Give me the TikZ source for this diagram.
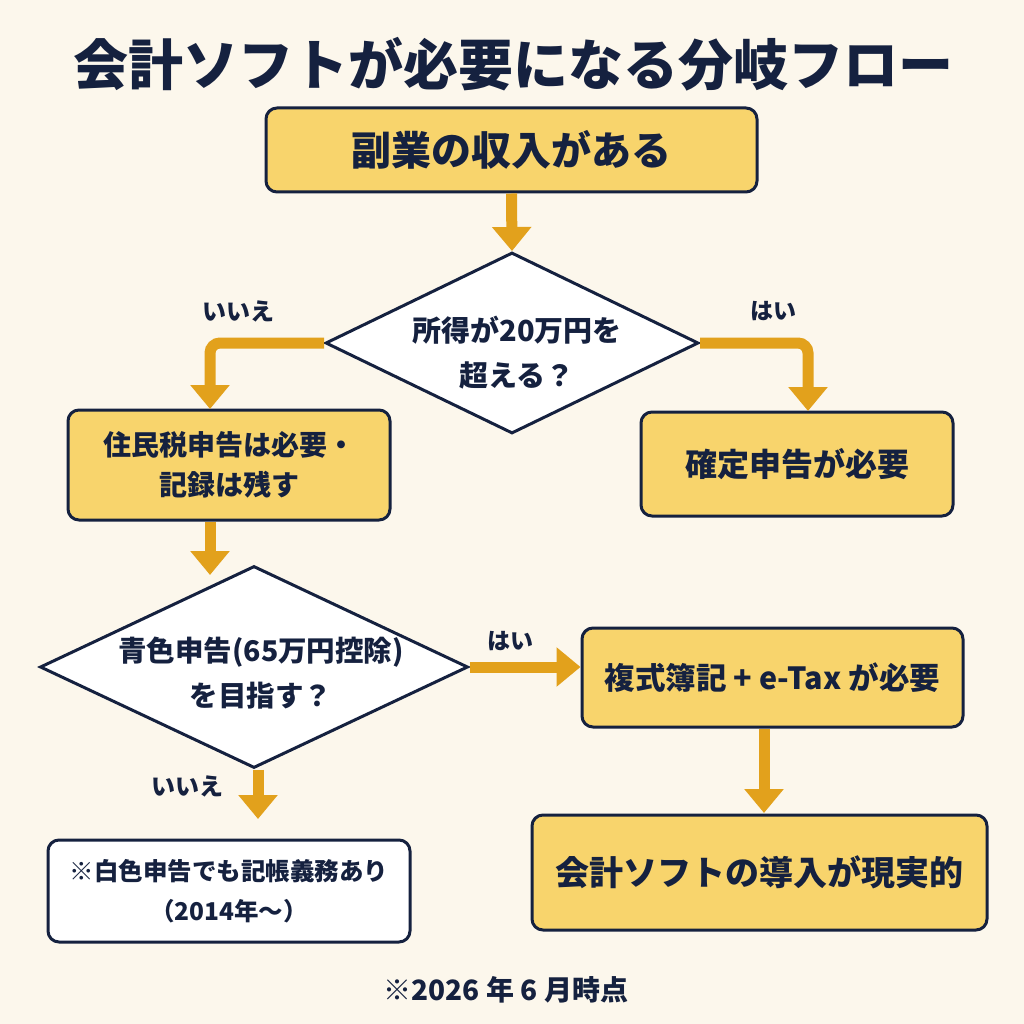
\documentclass[tikz,border=0pt]{standalone}
\usepackage{fontspec}
\setmainfont{Noto Sans CJK JP}
\usetikzlibrary{arrows.meta,shapes.geometric,calc}
\definecolor{bgc}{HTML}{FCF7EC}
\definecolor{navy}{HTML}{15213F}
\definecolor{boxy}{HTML}{F8D46C}
\definecolor{arr}{HTML}{E2A11C}
\tikzset{
  ybox/.style={draw=navy, line width=3pt, fill=boxy, rounded corners=11pt, inner sep=0pt, align=center, text=navy, font=\bfseries},
  wbox/.style={draw=navy, line width=3pt, fill=white, rounded corners=11pt, inner sep=0pt, align=center, text=navy, font=\bfseries},
  dia/.style={diamond, draw=navy, line width=3pt, fill=white, inner sep=0pt},
  txt/.style={text=navy, align=center, inner sep=0pt},
  flow/.style={draw=arr, line width=11pt, rounded corners=10pt, -{Triangle[width=38pt,length=24pt]}},
}
\begin{document}
\begin{tikzpicture}[x=1pt,y=-1pt]
\useasboundingbox (0,0) rectangle (1024,1024);
\fill[bgc] (0,0) rectangle (1024,1024);

\node[txt, font=\fontsize{55}{60}\selectfont\bfseries] (title) at (513,64) {会計ソフトが必要になる分岐フロー};

\node[ybox, minimum width=491pt, minimum height=84pt, font=\fontsize{40}{44}\selectfont\bfseries] (b1) at (511.5,150) {副業の収入がある};

\node[dia, minimum width=373pt, minimum height=181pt] (d1) at (512,343) {};
\node[txt, font=\fontsize{29}{45}\selectfont\bfseries] (d1t) at (517,353) {所得が20万円を\\超える？};

\node[ybox, minimum width=322pt, minimum height=110pt, font=\fontsize{28}{40}\selectfont\bfseries] (b2) at (229,465) {住民税申告は必要・\\記録は残す};
\node[ybox, minimum width=312pt, minimum height=104pt, font=\fontsize{32}{40}\selectfont\bfseries] (b3) at (797,464) {確定申告が必要};

\node[dia, minimum width=428pt, minimum height=202pt] (d2) at (254,667) {};
\node[txt, font=\fontsize{28.5}{45}\selectfont\bfseries] (d2t) at (261,673) {青色申告(65万円控除)\\を目指す？};

\node[ybox, minimum width=381pt, minimum height=99pt, font=\fontsize{30.5}{40}\selectfont\bfseries] (b4) at (772.5,677.5) {複式簿記 + e-Tax が必要};
\node[ybox, minimum width=455pt, minimum height=115pt, font=\fontsize{34}{40}\selectfont\bfseries] (b5) at (759.5,872.5) {会計ソフトの導入が現実的};
\node[wbox, minimum width=362pt, minimum height=102pt, font=\fontsize{24.5}{40}\selectfont\bfseries] (b6) at (229,891) {※白色申告でも記帳義務あり\\（2014年～）};

\node[txt, font=\fontsize{24}{26}\selectfont\bfseries] (l1) at (238,311) {いいえ};
\node[txt, font=\fontsize{23}{26}\selectfont\bfseries] (l2) at (773,311) {はい};
\node[txt, font=\fontsize{23}{26}\selectfont\bfseries] (l3) at (510,641) {はい};
\node[txt, font=\fontsize{24}{26}\selectfont\bfseries] (l4) at (187,786) {いいえ};

\node[txt, font=\fontsize{28}{30}\selectfont\bfseries] (foot) at (506,990) {※2026 年 6 月時点};

\coordinate (c2) at (210,409);
\coordinate (c3) at (808,411);
\coordinate (c4) at (210,575);
\coordinate (c6) at (258,819);
\coordinate (c7) at (764,813);

\draw[flow] (b1.south) -- (d1.north);
\draw[flow] (d1.west) -| (c2);
\draw[flow] (d1.east) -| (c3);
\draw[flow] (b2.south -| c4) -- (c4);
\draw[flow] (d2.east) -- (d2.east -| b4.west);
\draw[flow] (d2.south -| c6) -- (c6);
\draw[flow] (b4.south -| c7) -- (c7);
\end{tikzpicture}
\end{document}
